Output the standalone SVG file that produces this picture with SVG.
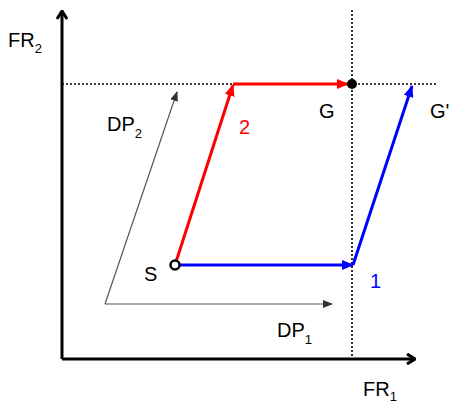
<svg xmlns="http://www.w3.org/2000/svg" width="449" height="406" viewBox="0 0 449 406">
<style>
text{font-family:"Liberation Sans",Arial,sans-serif;font-size:20px;fill:#000}
.sub{font-size:13px}
.axis{stroke:#000;stroke-width:3;fill:none}
.dot{stroke:#000;stroke-width:1.6;stroke-dasharray:2 2;fill:none}
.dp{stroke:#555;stroke-width:1.2;fill:none}
.red{stroke:#f00;stroke-width:3;fill:none}
.blue{stroke:#00f;stroke-width:3;fill:none}
</style>
<defs>
<marker id="ak" markerWidth="10" markerHeight="12" refX="9" refY="6" orient="auto" markerUnits="userSpaceOnUse"><path d="M1,1 L9,6 L1,11" fill="none" stroke="#000" stroke-width="3"/></marker>
<marker id="ag" markerWidth="10" markerHeight="8" refX="9" refY="4" orient="auto" markerUnits="userSpaceOnUse"><path d="M0,0 L10,4 L0,8 Z" fill="#333"/></marker>
<marker id="ar" markerWidth="12" markerHeight="10" refX="11" refY="5" orient="auto" markerUnits="userSpaceOnUse"><path d="M0,0 L12,5 L0,10 Z" fill="#f00"/></marker>
<marker id="ab" markerWidth="12" markerHeight="10" refX="11" refY="5" orient="auto" markerUnits="userSpaceOnUse"><path d="M0,0 L12,5 L0,10 Z" fill="#00f"/></marker>
</defs>
<g id="connectors">
<line class="dot" x1="62" y1="84" x2="438" y2="84"/>
<line class="dot" x1="352" y1="10" x2="352" y2="358"/>
<line class="axis" x1="62" y1="359" x2="62" y2="11" marker-end="url(#ak)"/>
<line class="axis" x1="62" y1="359" x2="415" y2="359" marker-end="url(#ak)"/>
<line class="dp" x1="105" y1="304" x2="332" y2="304" marker-end="url(#ag)"/>
<line class="dp" x1="105" y1="304" x2="177" y2="92" marker-end="url(#ag)"/>
<polyline class="red" points="175,265 233,85" marker-end="url(#ar)"/>
<polyline class="red" points="233,84 348,84" marker-end="url(#ar)"/>
<polyline class="blue" points="179,265 353,265" marker-end="url(#ab)"/>
<polyline class="blue" points="353,265 412,86" marker-end="url(#ab)"/>
</g>
<g id="S"><circle cx="175" cy="265" r="4.5" fill="#fff" stroke="#000" stroke-width="2.5"/><text x="144" y="281">S</text></g>
<g id="G"><circle cx="352" cy="84" r="5" fill="#000"/><text x="319" y="118">G</text></g>
<g id="Gp"><text x="430" y="118">G'</text></g>
<g id="n1"><text x="370" y="288" style="fill:#00f">1</text></g>
<g id="n2"><text x="239" y="134" style="fill:#f00">2</text></g>
<g id="FR2"><text x="8" y="47">FR<tspan class="sub" dy="6">2</tspan></text></g>
<g id="FR1"><text x="363" y="396">FR<tspan class="sub" dy="5">1</tspan></text></g>
<g id="DP2"><text x="107" y="131">DP<tspan class="sub" dy="7">2</tspan></text></g>
<g id="DP1"><text x="277" y="337">DP<tspan class="sub" dy="7">1</tspan></text></g>
</svg>
